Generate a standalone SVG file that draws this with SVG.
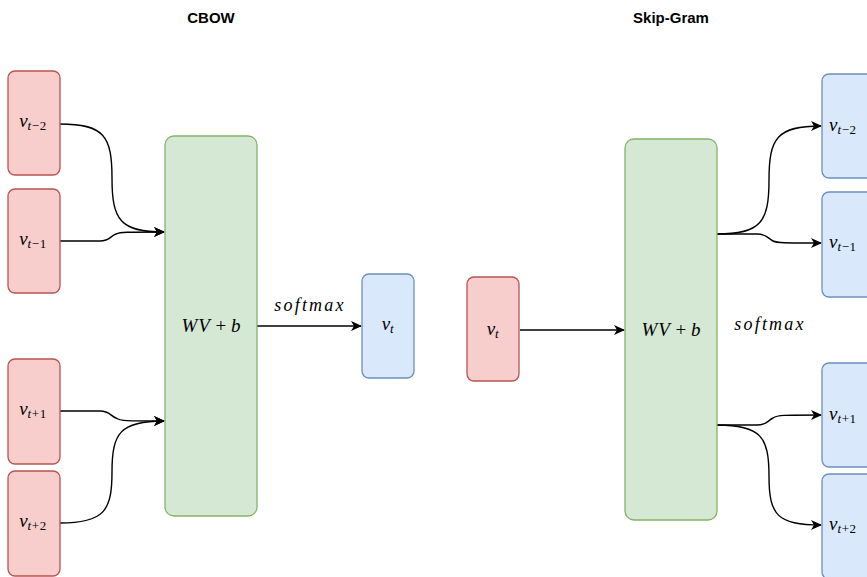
<svg xmlns="http://www.w3.org/2000/svg" width="867" height="577" viewBox="0 0 867 577">
<defs>
<style>
.red{fill:#f8cecc;stroke:#b85450;stroke-width:1.3}
.green{fill:#d5e8d4;stroke:#82b366;stroke-width:1.3}
.blue{fill:#dae8fc;stroke:#6c8ebf;stroke-width:1.3}
.title{font-family:"Liberation Sans",Arial,sans-serif;font-weight:bold;font-size:15px;fill:#000}
.m{font-family:"Liberation Serif","Times New Roman",serif;font-size:19px;fill:#000}
.sm{letter-spacing:2.2px;font-size:18px}
.i{font-style:italic}
.sub{font-size:13px;letter-spacing:0.6px}
.edge{fill:none;stroke:#000;stroke-width:1.4}
</style>
<marker id="arr" viewBox="0 0 11 10" refX="10" refY="5" markerWidth="11" markerHeight="10" markerUnits="userSpaceOnUse" orient="auto">
<path d="M0,0 L11,5 L0,10 L3,5 Z" fill="#000"/>
</marker>
</defs>
<rect width="867" height="577" fill="#fff"/>
<text class="title" x="211" y="23" text-anchor="middle">CBOW</text>
<text class="title" x="671" y="23" text-anchor="middle">Skip-Gram</text>

<g id="edges">
<path class="edge" marker-end="url(#arr)" d="M60,124 C104,124 112,136 112,178 C112,220 120,232 164,232"/>
<path class="edge" marker-end="url(#arr)" d="M60,241 L100,241 C110,241 110,236 116,234 C120,232 126,232 164,232"/>
<path class="edge" marker-end="url(#arr)" d="M60,411 L100,411 C110,411 110,416 116,418 C120,421 126,421 164,421"/>
<path class="edge" marker-end="url(#arr)" d="M60,523 C104,523 112,511 112,472 C112,433 120,421 164,421"/>
<path class="edge" marker-end="url(#arr)" d="M257,326 L361,326"/>
<path class="edge" marker-end="url(#arr)" d="M520,330 L624,330"/>
<path class="edge" marker-end="url(#arr)" d="M717,234 C761,234 769,222 769,180 C769,138 777,126 821,126"/>
<path class="edge" marker-end="url(#arr)" d="M717,234 L757,234 C767,234 767,238 773,241 C777,243 783,243 821,243"/>
<path class="edge" marker-end="url(#arr)" d="M717,425 L757,425 C767,425 767,421 773,418 C777,415 783,415 821,415"/>
<path class="edge" marker-end="url(#arr)" d="M717,425 C761,425 769,437 769,476 C769,515 777,525 821,525"/>
</g>
<text class="m i sm" x="310" y="311" text-anchor="middle">softmax</text>
<text class="m i sm" x="770" y="330" text-anchor="middle">softmax</text>

<g id="cbow-vt-2"><rect class="red" x="8" y="71" width="52" height="104" rx="7"/>
<text class="m" x="33" y="127" text-anchor="middle"><tspan class="i">v</tspan><tspan class="sub" dy="3"><tspan class="i">t</tspan>−2</tspan></text></g>
<g id="cbow-vt-1"><rect class="red" x="8" y="189" width="52" height="104" rx="7"/>
<text class="m" x="33" y="245" text-anchor="middle"><tspan class="i">v</tspan><tspan class="sub" dy="3"><tspan class="i">t</tspan>−1</tspan></text></g>
<g id="cbow-vt+1"><rect class="red" x="8" y="359" width="52" height="105" rx="7"/>
<text class="m" x="33" y="415" text-anchor="middle"><tspan class="i">v</tspan><tspan class="sub" dy="3"><tspan class="i">t</tspan>+1</tspan></text></g>
<g id="cbow-vt+2"><rect class="red" x="8" y="471" width="52" height="105" rx="7"/>
<text class="m" x="33" y="527" text-anchor="middle"><tspan class="i">v</tspan><tspan class="sub" dy="3"><tspan class="i">t</tspan>+2</tspan></text></g>
<g id="cbow-wvb"><rect class="green" x="165" y="136" width="92" height="380" rx="9"/>
<text class="m" x="211" y="332" text-anchor="middle" xml:space="preserve"><tspan class="i" letter-spacing="1">WV</tspan> + <tspan class="i">b</tspan></text></g>
<g id="cbow-vt"><rect class="blue" x="362" y="274" width="52" height="104" rx="7"/>
<text class="m" x="388" y="330" text-anchor="middle"><tspan class="i">v</tspan><tspan class="sub i" dy="3">t</tspan></text></g>

<g id="sg-vt"><rect class="red" x="467" y="277" width="52" height="104" rx="7"/>
<text class="m" x="493" y="335" text-anchor="middle"><tspan class="i">v</tspan><tspan class="sub i" dy="3">t</tspan></text></g>
<g id="sg-wvb"><rect class="green" x="625" y="139" width="92" height="381" rx="9"/>
<text class="m" x="671" y="336" text-anchor="middle" xml:space="preserve"><tspan class="i" letter-spacing="1">WV</tspan> + <tspan class="i">b</tspan></text></g>
<g id="sg-vt-2"><rect class="blue" x="822" y="74" width="60" height="104" rx="7"/>
<text class="m" x="829" y="131"><tspan class="i">v</tspan><tspan class="sub" dy="3"><tspan class="i">t</tspan>−2</tspan></text></g>
<g id="sg-vt-1"><rect class="blue" x="822" y="192" width="60" height="105" rx="7"/>
<text class="m" x="829" y="248"><tspan class="i">v</tspan><tspan class="sub" dy="3"><tspan class="i">t</tspan>−1</tspan></text></g>
<g id="sg-vt+1"><rect class="blue" x="822" y="363" width="60" height="104" rx="7"/>
<text class="m" x="829" y="420"><tspan class="i">v</tspan><tspan class="sub" dy="3"><tspan class="i">t</tspan>+1</tspan></text></g>
<g id="sg-vt+2"><rect class="blue" x="822" y="474" width="60" height="105" rx="7"/>
<text class="m" x="829" y="530"><tspan class="i">v</tspan><tspan class="sub" dy="3"><tspan class="i">t</tspan>+2</tspan></text></g>
</svg>
